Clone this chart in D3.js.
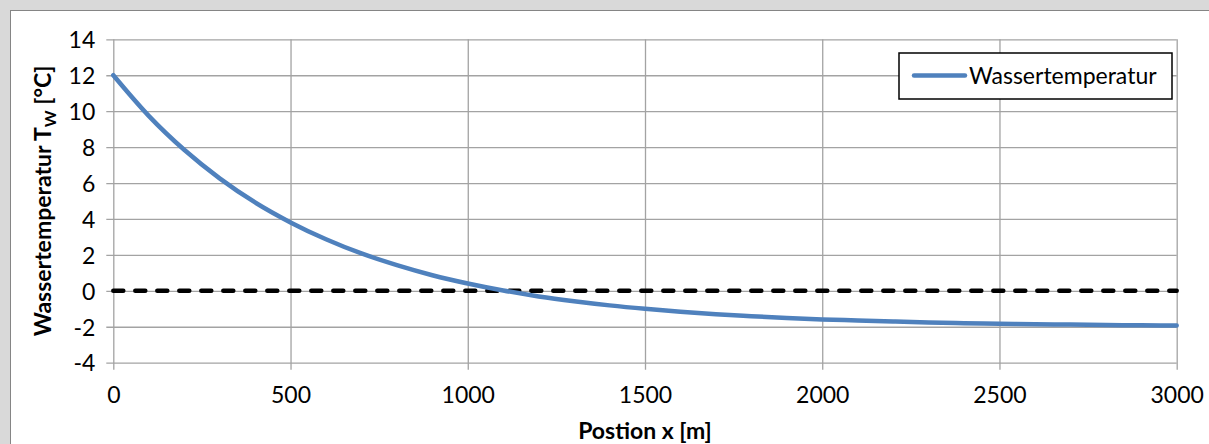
<!DOCTYPE html>
<html>
<head>
<meta charset="utf-8">
<script src="https://cdn.jsdelivr.net/npm/d3@7"></script>
<style>
  html, body { margin: 0; padding: 0; background: #d9d9d9; }
  svg { display: block; }
  text { font-family: Lato, 'Open Sans', sans-serif; fill: #000; }
</style>
</head>
<body>
<script>
// position along the pipe [m]
const positions = [0, 100, 200, 300, 400, 500, 600, 700, 800, 900, 1000,
    1100, 1200, 1300, 1400, 1500, 1600, 1700, 1800, 1900, 2000,
    2100, 2200, 2300, 2400, 2500, 2600, 2700, 2800, 2900, 3000];
// water temperature [°C]
const wasserTemp = [12.0, 9.74, 7.85, 6.26, 4.92, 3.81, 2.87, 2.08, 1.43, 0.87, 0.41,
    0.02, -0.31, -0.58, -0.81, -1.00, -1.16, -1.30, -1.41, -1.51, -1.59,
    -1.65, -1.71, -1.76, -1.80, -1.83, -1.86, -1.88, -1.90, -1.92, -1.93];
// freezing line
const nullPos = [0, 3000];
const nullTemp = [0, 0];

const xTicks = [0, 500, 1000, 1500, 2000, 2500, 3000];
const yTicks = [-4, -2, 0, 2, 4, 6, 8, 10, 12, 14];

const W = 1209, H = 444;
const plot = { left: 113.3, right: 1176.7, top: 39.3, bottom: 362.7 };
const fs = 23;

const svg = d3.select('body').append('svg').attr('width', W).attr('height', H);

// chart area
svg.append('rect').attr('x', 10.5).attr('y', 10.5)
   .attr('width', W).attr('height', H)
   .attr('fill', '#fff').attr('stroke', '#858585').attr('stroke-width', 1);

let x = d3.scaleLinear().domain([0, 3000]).range([plot.left, plot.right]),
    y = d3.scaleLinear().domain([-4, 14]).range([plot.bottom, plot.top]);

let fmt = d => String(d);

let yAxis = d3.axisLeft(y).tickValues(yTicks).tickFormat(fmt)
              .tickSizeInner(-(plot.right - plot.left)).tickSizeOuter(0).tickPadding(18),
    xAxis = d3.axisBottom(x).tickValues(xTicks).tickFormat(fmt)
              .tickSizeInner(-(plot.bottom - plot.top)).tickSizeOuter(0).tickPadding(40);

let gy = svg.append('g').attr('transform', `translate(${plot.left}, 0)`).call(yAxis);
gy.select('.domain').remove();
gy.selectAll('.tick line').attr('x1', -7).attr('stroke', '#a3a3a3').attr('stroke-width', 1.3);
gy.selectAll('.tick text').attr('font-size', fs).attr('font-family', 'Lato, sans-serif').attr('dy', '0.36em');

let gx = svg.append('g').attr('transform', `translate(0, ${plot.bottom})`).call(xAxis);
gx.select('.domain').remove();
gx.selectAll('.tick line').attr('y1', 7).attr('stroke', '#a3a3a3').attr('stroke-width', 1.3);
gx.selectAll('.tick text').attr('font-size', fs).attr('font-family', 'Lato, sans-serif').attr('dy', 0);

// zero line
let line = d3.line().x(d => x(d[0])).y(d => y(d[1]));
svg.append('path')
   .attr('d', line(d3.zip(nullPos, nullTemp)))
   .attr('fill', 'none').attr('stroke', '#000').attr('stroke-width', 4.5)
   .attr('stroke-linecap', 'round')
   .attr('stroke-dasharray', '10,12');

// water temperature
let curve = d3.line().curve(d3.curveMonotoneX).x(d => x(d[0])).y(d => y(d[1]));
svg.append('path')
   .attr('d', curve(d3.zip(positions, wasserTemp)))
   .attr('fill', 'none').attr('stroke', '#4f81bd').attr('stroke-width', 4.5)
   .attr('stroke-linejoin', 'round').attr('stroke-linecap', 'round');

// axis titles
svg.append('text')
   .attr('x', (plot.left + plot.right) / 2).attr('y', 439)
   .attr('text-anchor', 'middle').attr('font-size', fs).attr('font-weight', 'bold')
   .text('Postion x [m]');

let yt = svg.append('text')
   .attr('transform', `translate(51, ${(plot.top + plot.bottom) / 2}) rotate(-90)`)
   .attr('text-anchor', 'middle').attr('font-size', fs).attr('font-weight', 'bold');
yt.append('tspan').text('Wassertemperatur T');
yt.append('tspan').attr('font-size', 16).attr('dy', 5).text('W');
yt.append('tspan').attr('dy', -5).text(' [°C]');

// legend
let lg = svg.append('g');
lg.append('rect').attr('x', 899).attr('y', 53).attr('width', 273).attr('height', 46)
  .attr('fill', '#fff').attr('stroke', '#000').attr('stroke-width', 1.5);
lg.append('line').attr('x1', 914).attr('x2', 965).attr('y1', 75.5).attr('y2', 75.5)
  .attr('stroke', '#4f81bd').attr('stroke-width', 4.5).attr('stroke-linecap', 'round');
lg.append('text').attr('x', 969).attr('y', 84).attr('font-size', fs).text('Wassertemperatur');
</script>
</body>
</html>
